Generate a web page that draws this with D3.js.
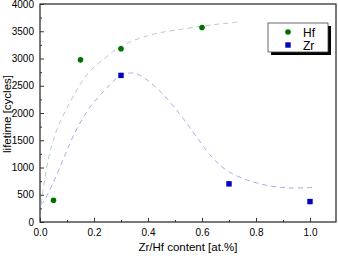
<!DOCTYPE html>
<html>
<head>
<meta charset="utf-8">
<script src="https://cdn.jsdelivr.net/npm/d3@7/dist/d3.min.js"></script>
<style>
  body { margin: 0; background: #fff; }
  text { font-family: "Liberation Sans", Arial, sans-serif; fill: #000; }
</style>
</head>
<body>
<script>
// measured points
var hfX = [0.05, 0.15, 0.3, 0.6];
var hfY = [400, 2975, 3180, 3570];
var zrX = [0.3, 0.7, 1.0];
var zrY = [2690, 700, 375];

// fit curves
var hfFitX = [0.005, 0.017, 0.036, 0.067, 0.116, 0.178, 0.249, 0.296, 0.407, 0.53, 0.654, 0.73];
var hfFitY = [343, 771, 1260, 1750, 2240, 2730, 3040, 3217, 3430, 3541, 3627, 3665];
var zrFitX = [0.003, 0.017, 0.048, 0.085, 0.128, 0.178, 0.246, 0.296, 0.344, 0.38, 0.45, 0.52, 0.58, 0.64, 0.70, 0.815, 0.926, 1.02];
var zrFitY = [310, 404, 710, 1138, 1627, 2055, 2453, 2680, 2735, 2665, 2370, 1965, 1560, 1175, 920, 700, 625, 640];

var xTicks = [0.0, 0.2, 0.4, 0.6, 0.8, 1.0];
var yTicks = [0, 500, 1000, 1500, 2000, 2500, 3000, 3500, 4000];

var W = 338, H = 256;
var m = {left: 40, top: 4, right: 1, bottom: 34};

var svg = d3.select("body").append("svg")
    .attr("width", W).attr("height", H);

var x = d3.scaleLinear().domain([0, 1.1]).range([m.left, m.left + 297]);
var y = d3.scaleLinear().domain([0, 4000]).range([H - m.bottom, m.top]);

// frame
svg.append("rect")
    .attr("x", x(0)).attr("y", y(4000))
    .attr("width", x(1.1) - x(0) - 1).attr("height", y(0) - y(4000))
    .attr("fill", "none").attr("stroke", "#333").attr("stroke-width", 1.3);

// x axis (ticks inward)
var xAxis = d3.axisBottom(x).tickValues(xTicks).tickSize(-4).tickPadding(7)
    .tickFormat(d3.format(".1f"));
var gx = svg.append("g").attr("transform", "translate(0," + y(0) + ")").call(xAxis);
gx.select(".domain").remove();
gx.selectAll("line").attr("stroke", "#333");
gx.selectAll("text").style("font-size", "10px");
var gxm = svg.append("g").attr("transform", "translate(0," + y(0) + ")")
    .call(d3.axisBottom(x).tickValues([0.1, 0.3, 0.5, 0.7, 0.9]).tickSize(-2).tickFormat(""));
gxm.select(".domain").remove();
gxm.selectAll("line").attr("stroke", "#333");

// y axis
var yAxis = d3.axisLeft(y).tickValues(yTicks).tickSize(-4).tickPadding(6)
    .tickFormat(d3.format("d"));
var gy = svg.append("g").attr("transform", "translate(" + x(0) + ",0)").call(yAxis);
gy.select(".domain").remove();
gy.selectAll("line").attr("stroke", "#333");
gy.selectAll("text").style("font-size", "10px");
var gym = svg.append("g").attr("transform", "translate(" + x(0) + ",0)")
    .call(d3.axisLeft(y).tickValues(d3.range(250, 4000, 500)).tickSize(-2).tickFormat(""));
gym.select(".domain").remove();
gym.selectAll("line").attr("stroke", "#333");

// axis titles
svg.append("text").attr("x", 188).attr("y", 251)
    .attr("text-anchor", "middle").style("font-size", "11.5px")
    .text("Zr/Hf content [at.%]");
svg.append("text")
    .attr("transform", "translate(10.5," + 114 + ") rotate(-90)")
    .attr("text-anchor", "middle").style("font-size", "11.5px")
    .text("lifetime [cycles]");

// fit lines
var line = d3.line().x(d => x(d[0])).y(d => y(d[1])).curve(d3.curveCatmullRom.alpha(0.5));
svg.append("path")
    .datum(hfFitX.map((v, i) => [v, hfFitY[i]]))
    .attr("d", line).attr("fill", "none")
    .attr("stroke", "#b5cdc6").attr("stroke-width", 1).attr("stroke-dasharray", "5,4");
svg.append("path")
    .datum(zrFitX.map((v, i) => [v, zrFitY[i]]))
    .attr("d", line).attr("fill", "none")
    .attr("stroke", "#a6aef2").attr("stroke-width", 1).attr("stroke-dasharray", "5,4");

// points
svg.selectAll("circle.hf").data(hfX).enter().append("circle")
    .attr("class", "hf")
    .attr("cx", d => x(d)).attr("cy", (d, i) => y(hfY[i]))
    .attr("r", 2.8).attr("fill", "#007000");
svg.selectAll("rect.zr").data(zrX).enter().append("rect")
    .attr("class", "zr")
    .attr("x", d => x(d) - 2.7).attr("y", (d, i) => y(zrY[i]) - 2.7)
    .attr("width", 5.4).attr("height", 5.4).attr("fill", "#0000c0");

// legend
var lg = svg.append("g").attr("transform", "translate(268,23)");
lg.append("rect").attr("x", 3).attr("y", 3).attr("width", 60).attr("height", 29).attr("fill", "#000");
lg.append("rect").attr("x", 0).attr("y", 0).attr("width", 60).attr("height", 29)
    .attr("fill", "#fff").attr("stroke", "#444").attr("stroke-width", 0.8);
lg.append("circle").attr("cx", 20).attr("cy", 9).attr("r", 2.8).attr("fill", "#007000");
lg.append("rect").attr("x", 17.3).attr("y", 19.3).attr("width", 5.4).attr("height", 5.4).attr("fill", "#0000c0");
lg.append("text").attr("x", 35).attr("y", 13.5).style("font-size", "12px").text("Hf");
lg.append("text").attr("x", 35).attr("y", 26.5).style("font-size", "12px").text("Zr");
</script>
</body>
</html>
